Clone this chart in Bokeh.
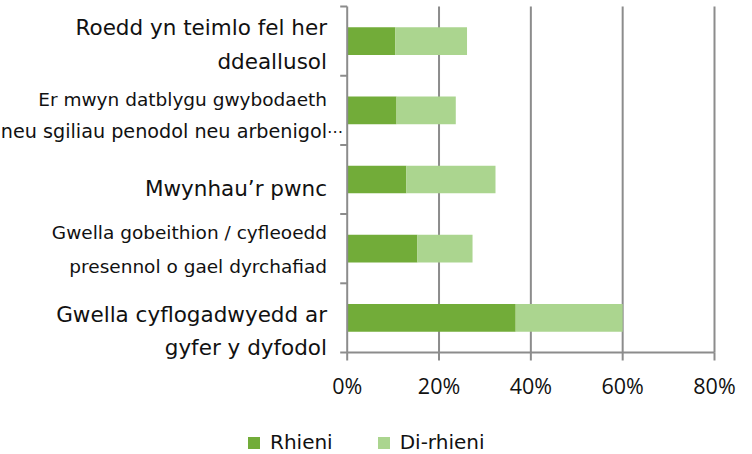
from bokeh.plotting import figure
from bokeh.models import Range1d, Legend, LegendItem, ColumnDataSource
from bokeh.core.properties import value
from bokeh.embed import file_html
from bokeh.resources import INLINE

# ---- data ----
categories = [
    "Roedd yn teimlo fel her ddeallusol",
    "Er mwyn datblygu gwybodaeth neu sgiliau penodol neu arbenigol",
    "Mwynhau’r pwnc",
    "Gwella gobeithion / cyfleoedd presennol o gael dyrchafiad",
    "Gwella cyflogadwyedd ar gyfer y dyfodol",
]
label_lines = [
    ["Roedd yn teimlo fel her", "ddeallusol"],
    ["Er mwyn datblygu gwybodaeth", "neu sgiliau penodol neu arbenigol"],
    ["Mwynhau’r pwnc"],
    ["Gwella gobeithion / cyfleoedd", "presennol o gael dyrchafiad"],
    ["Gwella cyflogadwyedd ar", "gyfer y dyfodol"],
]
rhieni = [10.5, 10.75, 12.9, 15.3, 36.7]
di_rhieni = [15.6, 12.9, 19.4, 12.0, 23.3]
series_names = ["Rhieni", "Di-rhieni"]
x_ticks = [0, 20, 40, 60, 80]
x_tick_labels = ["0%", "20%", "40%", "60%", "80%"]

# ---- layout / style ----
W, H = 752, 454
PL, PR, PT, PB = 346.7, 714.0, 6.0, 352.0      # plot area (px)
DARK = "#72AC39"
LIGHT = "#ABD58F"
GRID = "#8C8C8C"
TEXT = "#111111"
label_sizes = [[21.5, 21.5], [18.5, 19.2], [21.5], [18.5, 18.5], [21.5, 21.5]]
# baseline offsets (px below category centre) for each label line
label_baselines = [[-5.9, 28.1], [-3.5, 29.1], [16.8], [-9.1, 24.9], [4.2, 37.5]]
LABEL_RIGHT_PX = 326.5
TICK_LABEL_BASELINE_PX = 395
TICK_LEN = 8
LABEL_SHIFT = 7.5      # renderer baseline correction (px)
TICK_SHIFT = 10

n = len(categories)
ys = list(range(n))
XMIN, XMAX = x_ticks[0], x_ticks[-1]
ppx = (PR - PL) / (XMAX - XMIN)
ppc = (PB - PT) / n


def xd(px):
    return XMIN + (px - PL) / ppx


def yd(py):
    return -0.5 + (py - PT) / ppc


p = figure(width=W, height=H,
           x_range=Range1d(xd(0), xd(W)), y_range=Range1d(yd(H), yd(0)),
           x_axis_type=None, y_axis_type=None, min_border=0,
           output_backend="svg", toolbar_location=None)
p.outline_line_color = None
p.background_fill_color = "white"
p.border_fill_color = "white"

y_top, y_bot = -0.5, n - 0.5

# vertical grid lines
p.segment(x0=x_ticks[1:], y0=[y_top] * 4, x1=x_ticks[1:], y1=[y_bot] * 4,
          line_color=GRID, line_width=2)

source = ColumnDataSource(dict(y=ys, cat=categories, Rhieni=rhieni, **{"Di-rhieni": di_rhieni}))
renderers = p.hbar_stack(series_names, y="y", height=0.4, color=[DARK, LIGHT],
                         line_color=None, source=source)

# axes lines
p.segment(x0=[XMIN, XMIN], y0=[y_top, y_bot], x1=[XMIN, XMAX], y1=[y_bot, y_bot],
          line_color=GRID, line_width=2)
# x ticks (outward, down)
p.segment(x0=x_ticks, y0=[y_bot] * len(x_ticks), x1=x_ticks,
          y1=[yd(PB + TICK_LEN)] * len(x_ticks), line_color=GRID, line_width=2)
# y ticks at category boundaries (outward, left)
bounds = [i - 0.5 for i in range(n + 1)]
p.segment(x0=[XMIN] * len(bounds), y0=bounds, x1=[xd(PL - 7)] * len(bounds), y1=bounds,
          line_color=GRID, line_width=2)

# x tick labels
p.text(x=x_ticks, y=[yd(TICK_LABEL_BASELINE_PX - TICK_SHIFT)] * len(x_ticks), text=x_tick_labels,
       text_align="center", text_baseline="alphabetic",
       text_font=value("Open Sans"), text_font_size="21.5px", text_color=TEXT)

# category labels
lx, ly, lt, ls = [], [], [], []
for i, lines in enumerate(label_lines):
    for j, line in enumerate(lines):
        lx.append(xd(LABEL_RIGHT_PX))
        ly.append(ys[i] + (label_baselines[i][j] - LABEL_SHIFT) / ppc)
        lt.append(line)
        ls.append(f"{label_sizes[i][j]}px")
lab_src = ColumnDataSource(dict(x=lx, y=ly, text=lt, size=ls))
p.text(x="x", y="y", text="text", text_font_size="size", source=lab_src,
       text_align="right", text_baseline="alphabetic",
       text_font=value("DejaVu Sans"), text_color=TEXT)
# truncated-label ellipsis
p.text(x=[xd(LABEL_RIGHT_PX)], y=[ys[1] + (label_baselines[1][1] - LABEL_SHIFT) / ppc], text=["\u22ef"],
       text_align="left", text_baseline="alphabetic",
       text_font=value("DejaVu Sans"), text_font_size="16px", text_color=TEXT)

legend = Legend(items=[LegendItem(label=name, renderers=[r]) for name, r in zip(series_names, renderers)],
                location=(246, 0), orientation="horizontal",
                glyph_width=15, glyph_height=15, label_standoff=9, spacing=43,
                padding=0, margin=0, border_line_color=None, background_fill_alpha=0,
                label_text_font="DejaVu Sans", label_text_font_size="20px",
                label_text_color=TEXT)
p.add_layout(legend, "center")

open("out.html", "w").write(file_html(p, INLINE))
